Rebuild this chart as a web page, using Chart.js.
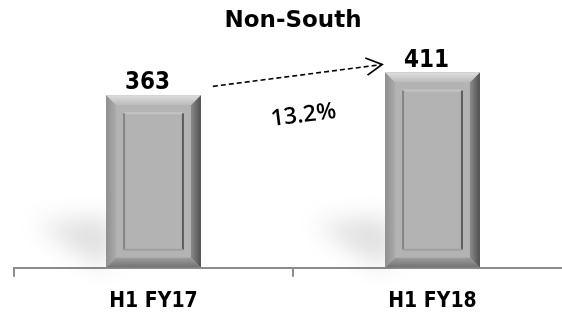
<!DOCTYPE html>
<html>
<head>
<meta charset="utf-8">
<script src="https://cdn.jsdelivr.net/npm/chart.js@4.4.1/dist/chart.umd.min.js"></script>
<style>
    body { margin: 0; background: #fff; }
    #wrap { width: 562px; height: 316px; overflow: hidden; }
</style>
</head>
<body>
<div id="wrap"><canvas id="chart" width="572" height="326"></canvas></div>
<script>
const chartTitle = 'Non-South';
const categories = ['H1 FY17', 'H1 FY18'];
const values = [363, 411];
const valueLabels = ['363', '411'];
const growthLabel = '13.2%';

const labelFont = '"DejaVu Sans Condensed", "DejaVu Sans", sans-serif';

function poly(ctx, pts, fill) {
    ctx.beginPath();
    ctx.moveTo(pts[0][0], pts[0][1]);
    for (let i = 1; i < pts.length; i++) ctx.lineTo(pts[i][0], pts[i][1]);
    ctx.closePath();
    ctx.fillStyle = fill;
    ctx.fill();
}

function drawBevelBar(ctx, bar) {
    const x0 = bar.x - bar.width / 2, x1 = bar.x + bar.width / 2;
    const y0 = bar.y, y1 = bar.base;
    const b = 10, g = 18;
    let gr;

    ctx.fillStyle = '#b3b3b3';
    ctx.fillRect(x0, y0, x1 - x0, y1 - y0);

    // top bevel
    gr = ctx.createLinearGradient(0, y0, 0, y0 + b);
    gr.addColorStop(0, '#dedede');
    gr.addColorStop(1, '#b9b9b9');
    poly(ctx, [[x0, y0], [x1, y0], [x1 - b, y0 + b], [x0 + b, y0 + b]], gr);
    // left bevel
    gr = ctx.createLinearGradient(x0, 0, x0 + b, 0);
    gr.addColorStop(0, '#8f8f8f');
    gr.addColorStop(1, '#ababab');
    poly(ctx, [[x0, y0], [x0 + b, y0 + b], [x0 + b, y1 - b], [x0, y1]], gr);
    // right bevel
    gr = ctx.createLinearGradient(x1 - b, 0, x1, 0);
    gr.addColorStop(0, '#8c8c8c');
    gr.addColorStop(1, '#4f4f4f');
    poly(ctx, [[x1, y0], [x1, y1], [x1 - b, y1 - b], [x1 - b, y0 + b]], gr);
    // bottom bevel
    gr = ctx.createLinearGradient(0, y1 - b, 0, y1);
    gr.addColorStop(0, '#9c9c9c');
    gr.addColorStop(1, '#707070');
    poly(ctx, [[x0, y1], [x1, y1], [x1 - b, y1 - b], [x0 + b, y1 - b]], gr);

    // inner groove
    ctx.lineWidth = 2;
    ctx.strokeStyle = '#c4c4c4';
    ctx.beginPath();
    ctx.moveTo(x0 + g, y0 + g); ctx.lineTo(x1 - g, y0 + g);
    ctx.stroke();
    ctx.strokeStyle = '#858585';
    ctx.beginPath();
    ctx.moveTo(x0 + g, y0 + g); ctx.lineTo(x0 + g, y1 - g);
    ctx.stroke();
    ctx.strokeStyle = '#5c5c5c';
    ctx.beginPath();
    ctx.moveTo(x1 - g, y0 + g); ctx.lineTo(x1 - g, y1 - g);
    ctx.stroke();
    ctx.strokeStyle = '#a0a0a0';
    ctx.beginPath();
    ctx.moveTo(x0 + g, y1 - g); ctx.lineTo(x1 - g, y1 - g);
    ctx.stroke();
}

const bevelPlugin = {
    id: 'bevel',
    beforeDatasetsDraw(chart) {
        const ctx = chart.ctx;
        chart.getDatasetMeta(0).data.forEach(function(bar) {
            const x0 = bar.x - bar.width / 2, y1 = bar.base;
            ctx.save();
            ctx.filter = 'blur(12px)';
            poly(ctx, [[x0 + 6, y1 - 50], [x0 - 70, y1 - 44], [x0 - 10, y1 - 4], [x0 + 6, y1 - 4]], 'rgba(0,0,0,0.13)');
            ctx.restore();
        });
    },
    afterDatasetsDraw(chart) {
        const ctx = chart.ctx;
        const bars = chart.getDatasetMeta(0).data;
        ctx.save();
        bars.forEach(function(bar) { drawBevelBar(ctx, bar); });

        // value labels
        ctx.fillStyle = '#000';
        ctx.font = 'bold 24px ' + labelFont;
        ctx.textAlign = 'center';
        ctx.textBaseline = 'alphabetic';
        bars.forEach(function(bar, i) {
            ctx.fillText(valueLabels[i], bar.x - 6, bar.y - 6);
        });

        // growth arrow
        const a = bars[0], c = bars[1];
        const sx = a.x + a.width / 2 + 12, sy = a.y - 9;
        const ex = c.x - c.width / 2 - 3, ey = c.y - 8;
        ctx.strokeStyle = '#000';
        ctx.lineWidth = 1.6;
        ctx.setLineDash([5, 3]);
        ctx.beginPath();
        ctx.moveTo(sx, sy);
        ctx.lineTo(ex, ey);
        ctx.stroke();
        ctx.setLineDash([]);
        const ang = Math.atan2(ey - sy, ex - sx);
        ctx.lineWidth = 1.8;
        ctx.beginPath();
        ctx.moveTo(ex + 18 * Math.cos(ang + Math.PI - 0.5), ey + 18 * Math.sin(ang + Math.PI - 0.5));
        ctx.lineTo(ex, ey);
        ctx.lineTo(ex + 18 * Math.cos(ang + Math.PI + 0.5), ey + 18 * Math.sin(ang + Math.PI + 0.5));
        ctx.stroke();

        // growth label
        ctx.translate((sx + ex) / 2 + 6, (sy + ey) / 2 + 40);
        ctx.rotate(-7 * Math.PI / 180);
        ctx.font = '600 23px "Open Sans", "DejaVu Sans", sans-serif';
        ctx.textBaseline = 'middle';
        ctx.fillText(growthLabel, 0, 0);
        ctx.restore();

        // title
        const area = chart.chartArea;
        ctx.save();
        ctx.font = 'bold 23px "DejaVu Sans", sans-serif';
        ctx.textAlign = 'center';
        ctx.textBaseline = 'alphabetic';
        ctx.fillStyle = '#000';
        ctx.fillText(chartTitle, (area.left + area.right) / 2, 27);
        ctx.restore();
    }
};

new Chart(document.getElementById('chart'), {
    type: 'bar',
    data: {
        labels: categories,
        datasets: [{
            data: values,
            backgroundColor: '#b3b3b3',
            borderWidth: 0,
            barPercentage: 0.34,
            categoryPercentage: 1
        }]
    },
    options: {
        responsive: false,
        animation: false,
        events: [],
        layout: { padding: { left: 14, right: 0, top: 54, bottom: 0 } },
        plugins: {
            legend: { display: false },
            title: { display: false },
            tooltip: { enabled: false }
        },
        scales: {
            x: {
                grid: { drawOnChartArea: false, color: '#8c8c8c', lineWidth: 2, tickLength: 9 },
                border: { color: '#8c8c8c', width: 2 },
                ticks: {
                    color: '#000',
                    padding: 12,
                    font: { family: labelFont, size: 21, weight: 'bold' }
                }
            },
            y: {
                display: false,
                min: 0,
                max: 450
            }
        }
    },
    plugins: [bevelPlugin]
});
</script>
</body>
</html>
